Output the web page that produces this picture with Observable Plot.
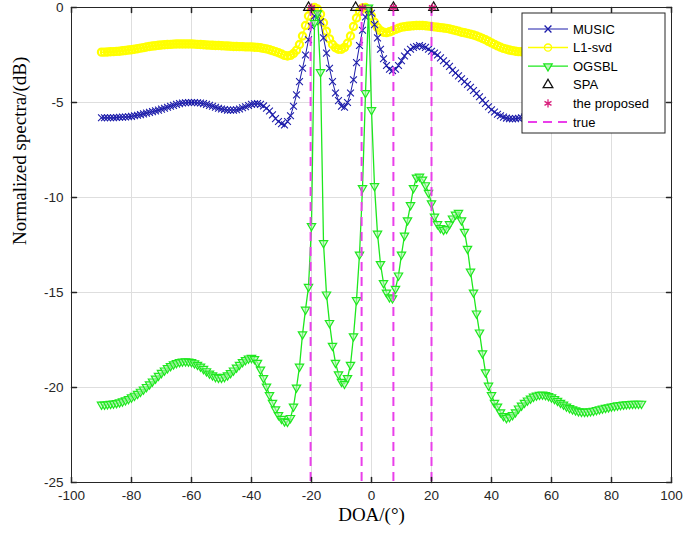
<!DOCTYPE html>
<html><head><meta charset="utf-8">
<script src="https://cdn.jsdelivr.net/npm/d3@7"></script>
<script src="https://cdn.jsdelivr.net/npm/@observablehq/plot@0.6"></script>
<style>
html,body{margin:0;padding:0;background:#fff;}
#chart{width:685px;height:535px;}
</style></head><body><div id="chart"></div>
<script>
// DOA sampling grid (degrees)
const doa = d3.range(-90, 91, 1);

const music = [
-5.80,-5.80,-5.80,-5.80,-5.80,-5.79,-5.78,-5.77,-5.76,-5.75,
-5.73,-5.70,-5.67,-5.64,-5.60,-5.56,-5.52,-5.48,-5.44,-5.40,
-5.35,-5.30,-5.25,-5.20,-5.15,-5.10,-5.06,-5.03,-5.01,-5.00,
-5.00,-5.00,-5.01,-5.03,-5.06,-5.10,-5.15,-5.20,-5.25,-5.30,
-5.34,-5.37,-5.40,-5.40,-5.40,-5.38,-5.34,-5.28,-5.22,-5.16,
-5.10,-5.07,-5.06,-5.10,-5.18,-5.30,-5.45,-5.65,-5.85,-6.00,
-6.12,-6.18,-6.00,-5.70,-5.20,-4.60,-3.90,-3.20,-2.50,-1.70,
-1.00,-0.45,-0.30,-0.75,-1.60,-2.40,-3.20,-3.90,-4.50,-4.90,
-5.20,-5.25,-5.00,-4.50,-3.80,-2.90,-2.00,-1.20,-0.50,-0.10,
-0.30,-0.90,-1.60,-2.20,-2.70,-3.05,-3.25,-3.32,-3.25,-3.05,
-2.80,-2.55,-2.35,-2.20,-2.10,-2.05,-2.00,-2.05,-2.10,-2.20,
-2.30,-2.40,-2.50,-2.65,-2.80,-2.95,-3.10,-3.30,-3.45,-3.60,
-3.75,-3.90,-4.05,-4.20,-4.37,-4.53,-4.70,-4.88,-5.05,-5.22,
-5.38,-5.50,-5.62,-5.70,-5.77,-5.82,-5.85,-5.86,-5.85,-5.83,
-5.80,-5.77,-5.73,-5.69,-5.65,-5.60,-5.55,-5.50,-5.46,-5.42,
-5.39,-5.36,-5.34,-5.32,-5.31,-5.30,-5.30,-5.31,-5.32,-5.34,
-5.36,-5.39,-5.42,-5.46,-5.50,-5.54,-5.58,-5.62,-5.66,-5.69,
-5.72,-5.74,-5.76,-5.78,-5.79,-5.80,-5.81,-5.82,-5.82,-5.83,
-5.83];

const l1svd = [
-2.35,-2.35,-2.34,-2.33,-2.32,-2.31,-2.30,-2.28,-2.26,-2.24,
-2.22,-2.20,-2.17,-2.14,-2.11,-2.08,-2.05,-2.03,-2.01,-1.99,
-1.97,-1.96,-1.95,-1.94,-1.93,-1.92,-1.92,-1.92,-1.92,-1.92,
-1.92,-1.93,-1.94,-1.95,-1.96,-1.97,-1.98,-1.99,-2.00,-2.00,
-2.01,-2.02,-2.03,-2.04,-2.05,-2.05,-2.06,-2.06,-2.07,-2.07,
-2.08,-2.09,-2.10,-2.12,-2.15,-2.18,-2.22,-2.27,-2.32,-2.38,
-2.45,-2.52,-2.55,-2.52,-2.42,-2.25,-1.95,-1.50,-0.95,-0.45,
-0.12,0.00,-0.08,-0.35,-0.80,-1.25,-1.65,-1.95,-2.12,-2.20,
-2.20,-2.10,-1.88,-1.50,-1.00,-0.55,-0.20,-0.02,0.00,-0.15,
-0.45,-0.78,-1.05,-1.22,-1.30,-1.32,-1.28,-1.22,-1.15,-1.09,
-1.04,-1.01,-0.99,-0.97,-0.96,-0.95,-0.95,-0.95,-0.96,-0.98,
-1.00,-1.02,-1.04,-1.06,-1.08,-1.10,-1.13,-1.17,-1.21,-1.25,
-1.30,-1.33,-1.37,-1.41,-1.45,-1.50,-1.56,-1.63,-1.70,-1.78,
-1.86,-1.94,-2.02,-2.09,-2.15,-2.20,-2.24,-2.27,-2.30,-2.32,
-2.33,-2.34,-2.34,-2.34,-2.33,-2.32,-2.30,-2.28,-2.26,-2.24,
-2.22,-2.20,-2.18,-2.16,-2.15,-2.14,-2.13,-2.13,-2.13,-2.14,
-2.15,-2.16,-2.17,-2.18,-2.19,-2.20,-2.21,-2.22,-2.23,-2.24,
-2.25,-2.26,-2.27,-2.28,-2.29,-2.30,-2.31,-2.32,-2.33,-2.34,
-2.35];

const ogsbl = [
-20.90,-20.90,-20.88,-20.86,-20.84,-20.82,-20.78,-20.73,-20.67,-20.60,
-20.52,-20.43,-20.33,-20.22,-20.10,-19.97,-19.83,-19.68,-19.53,-19.38,
-19.23,-19.10,-18.98,-18.87,-18.78,-18.71,-18.66,-18.63,-18.62,-18.63,
-18.66,-18.72,-18.80,-18.90,-19.02,-19.14,-19.26,-19.36,-19.44,-19.48,
-19.48,-19.44,-19.36,-19.24,-19.10,-18.95,-18.80,-18.66,-18.55,-18.47,
-18.44,-18.50,-18.70,-19.05,-19.50,-19.95,-20.40,-20.80,-21.15,-21.45,
-21.65,-21.78,-21.80,-21.60,-21.00,-20.00,-18.90,-17.20,-15.90,-14.70,
-11.50,-0.80,-0.30,-3.40,-12.40,-15.10,-16.60,-17.80,-18.70,-19.30,
-19.70,-19.80,-19.50,-18.80,-17.30,-15.40,-13.00,-9.50,-4.50,0.00,
-5.40,-9.40,-11.90,-13.50,-14.50,-15.00,-15.25,-15.30,-14.80,-14.10,
-13.00,-12.00,-11.20,-10.40,-9.50,-8.95,-8.90,-9.05,-9.35,-9.75,
-10.30,-11.00,-11.40,-11.60,-11.70,-11.65,-11.40,-11.10,-10.90,-10.80,
-11.20,-11.80,-12.70,-13.90,-15.00,-16.10,-17.10,-18.20,-19.20,-19.90,
-20.40,-20.80,-21.00,-21.30,-21.50,-21.60,-21.55,-21.45,-21.30,-21.10,
-20.95,-20.80,-20.68,-20.58,-20.48,-20.42,-20.38,-20.37,-20.40,-20.45,
-20.52,-20.60,-20.70,-20.80,-20.90,-21.00,-21.08,-21.15,-21.20,-21.25,
-21.27,-21.28,-21.27,-21.25,-21.22,-21.18,-21.14,-21.10,-21.07,-21.04,
-21.00,-20.97,-20.94,-20.92,-20.90,-20.88,-20.87,-20.86,-20.85,-20.85,
-20.85];

const spaDOA = [-21, -5.3, 7.3, 20.7];
const spaValue = [0, 0, 0, 0];
const proposedDOA = [-20, -3, 7.3, 20.3];
const proposedValue = [0, 0, 0, 0];
const trueDOA = [-20.3, -3.3, 7.3, 20];

const xTicks = [-100, -80, -60, -40, -20, 0, 20, 40, 60, 80, 100];
const yTicks = [-25, -20, -15, -10, -5, 0];

const seriesNames = ["MUSIC", "L1-svd", "OGSBL", "SPA", "the proposed", "true"];
const xLabel = "DOA/(°)";
const yLabel = "Normalized spectra/(dB)";

// colours
const cBlue = "#1c1caa", cYellow = "#ffff00", cGreen = "#1ee81e",
      cMag = "#ea3fea", cStar = "#d81f7c", cBlack = "#111";

const rows = doa.map((d, i) => ({doa: d, music: music[i], l1: l1svd[i], og: ogsbl[i]}));
const spa = spaDOA.map((d, i) => ({doa: d, v: spaValue[i]}));
const prop = proposedDOA.map((d, i) => ({doa: d, v: proposedValue[i]}));

// downward triangle symbol
const triDown = {
  draw(ctx, size) {
    const y = -Math.sqrt(size / (3 * Math.sqrt(3)));
    ctx.moveTo(0, -2 * y);
    ctx.lineTo(-Math.sqrt(3) * y, y);
    ctx.lineTo(Math.sqrt(3) * y, y);
    ctx.closePath();
  }
};
const tickShape = { draw(ctx, l) { ctx.moveTo(0, 0); ctx.lineTo(0, -l); } };

const chart = Plot.plot({
  width: 685, height: 535,
  marginLeft: 71, marginRight: 14, marginTop: 7, marginBottom: 53,
  style: {fontFamily: "'Liberation Sans', Arial, sans-serif", fontSize: "13.5px", color: "#262626", background: "#fff", overflow: "visible"},
  x: {domain: [-100, 100], label: null},
  y: {domain: [-25, 0], label: null},
  marks: [
    Plot.gridX(xTicks, {stroke: "#dedede", strokeOpacity: 1}),
    Plot.gridY(yTicks, {stroke: "#dedede", strokeOpacity: 1}),
    Plot.line(rows, {x: "doa", y: "l1", stroke: cYellow, strokeWidth: 1.5}),
    Plot.dot(rows, {x: "doa", y: "l1", r: 3.6, stroke: cYellow, strokeWidth: 2.2}),
    Plot.line(rows, {x: "doa", y: "music", stroke: cBlue, strokeWidth: 1}),
    Plot.dot(rows, {x: "doa", y: "music", symbol: "times", r: 3.2, stroke: cBlue, strokeWidth: 1.1}),
    Plot.line(rows, {x: "doa", y: "og", stroke: cGreen, strokeWidth: 1.3}),
    Plot.dot(rows, {x: "doa", y: "og", symbol: triDown, r: 3.1, stroke: cGreen, strokeWidth: 1.2, fill: "#b8f5b8", fillOpacity: 0.6}),
    Plot.ruleX(trueDOA, {stroke: cMag, strokeWidth: 2, strokeDasharray: "9,6"}),
    Plot.dot(spa, {x: "doa", y: "v", symbol: "triangle", r: 3.6, stroke: cBlack, strokeWidth: 1.2}),
    Plot.dot(prop, {x: "doa", y: "v", symbol: "asterisk", r: 3.8, stroke: cStar, strokeWidth: 1.5}),
    Plot.frame({stroke: "#262626", strokeWidth: 1}),
    Plot.vector(xTicks, {x: d => d, frameAnchor: "bottom", anchor: "start", length: 5, rotate: 0, shape: tickShape, stroke: "#262626"}),
    Plot.vector(xTicks, {x: d => d, frameAnchor: "top", anchor: "start", length: 5, rotate: 180, shape: tickShape, stroke: "#262626"}),
    Plot.vector(yTicks, {y: d => d, frameAnchor: "left", anchor: "start", length: 5, rotate: 90, shape: tickShape, stroke: "#262626"}),
    Plot.vector(yTicks, {y: d => d, frameAnchor: "right", anchor: "start", length: 5, rotate: -90, shape: tickShape, stroke: "#262626"}),
    Plot.axisX(xTicks, {anchor: "bottom", tickSize: 0, tickPadding: 8, tickFormat: d => String(d), fill: "#262626"}),
    Plot.axisY(yTicks, {anchor: "left", tickSize: 0, tickPadding: 8, tickFormat: d => String(d), fill: "#262626"}),
    Plot.text([xLabel], {frameAnchor: "bottom", dy: 38, fontFamily: "'Liberation Serif', 'Times New Roman', serif", fontSize: 19, fill: "#000"}),
    Plot.text([yLabel], {frameAnchor: "left", dx: -52, rotate: -90, fontFamily: "'Liberation Serif', 'Times New Roman', serif", fontSize: 19, fill: "#000"})
  ]
});

// Legend (drawn inside the SVG, top-right corner)
const svg = d3.select(chart);
const lg = svg.append("g").attr("transform", "translate(522,13)")
  .attr("text-anchor", "start")
  .style("font-family", "'Liberation Sans', Arial, sans-serif").style("font-size", "13px");
lg.append("rect").attr("width", 143).attr("height", 120).attr("fill", "#fff").attr("stroke", "#262626");
const legendItems = [
  {line: cBlue, lw: 1, sym: d3.symbolTimes, r: 3.2, stroke: cBlue, fill: "none"},
  {line: cYellow, lw: 1.5, sym: d3.symbolCircle, r: 3.6, stroke: cYellow, fill: "none"},
  {line: cGreen, lw: 1.3, sym: triDown, r: 3.1, stroke: cGreen, fill: "#b8f5b8"},
  {line: null, sym: d3.symbolTriangle, r: 3.6, stroke: cBlack, fill: "none"},
  {line: null, sym: d3.symbolAsterisk, r: 3.8, stroke: cStar, fill: "none"},
  {line: cMag, lw: 2, dash: "9,6", sym: null}
];
legendItems.forEach((it, i) => {
  const y = 16 + i * 18.6;
  if (it.line) {
    const ln = lg.append("line").attr("x1", 6).attr("x2", 46).attr("y1", y).attr("y2", y)
      .attr("stroke", it.line).attr("stroke-width", it.lw);
    if (it.dash) ln.attr("stroke-dasharray", it.dash);
  }
  if (it.sym) {
    lg.append("path").attr("transform", `translate(26,${y})`)
      .attr("d", d3.symbol(it.sym, Math.PI * it.r * it.r)())
      .attr("stroke", it.stroke).attr("fill", it.fill).attr("stroke-width", 1.3);
  }
  lg.append("text").attr("x", 51).attr("y", y).attr("dy", "0.35em")
    .attr("text-anchor", "start").attr("fill", "#000").text(seriesNames[i]);
});

document.getElementById("chart").appendChild(chart);
</script>
</body></html>
